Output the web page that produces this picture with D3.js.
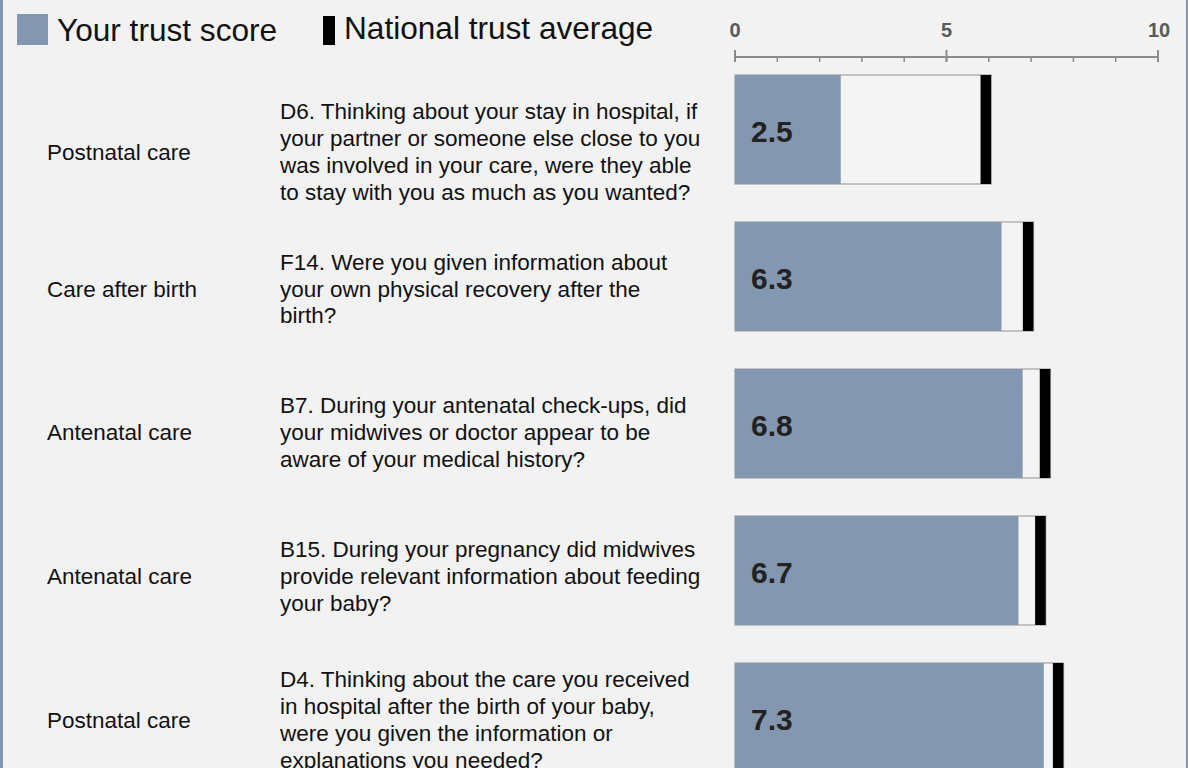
<!DOCTYPE html>
<html>
<head>
<meta charset="utf-8">
<script src="https://cdn.jsdelivr.net/npm/d3@7"></script>
<style>
	html, body { margin: 0; padding: 0; background: #f2f2f2; }
	svg { display: block; font-family: "Liberation Sans", Arial, sans-serif; }
</style>
</head>
<body>
<div id="app"></div>
<script>
// values
const categories = ['Postnatal care', 'Care after birth', 'Antenatal care', 'Antenatal care', 'Postnatal care'];
const questions = [
	['D6. Thinking about your stay in hospital, if', 'your partner or someone else close to you', 'was involved in your care, were they able', 'to stay with you as much as you wanted?'],
	['F14. Were you given information about', 'your own physical recovery after the', 'birth?'],
	['B7. During your antenatal check-ups, did', 'your midwives or doctor appear to be', 'aware of your medical history?'],
	['B15. During your pregnancy did midwives', 'provide relevant information about feeding', 'your baby?'],
	['D4. Thinking about the care you received', 'in hospital after the birth of your baby,', 'were you given the information or', 'explanations you needed?'],
];
const trustScores = [2.5, 6.3, 6.8, 6.7, 7.3];
const nationalAverages = [5.93, 6.93, 7.33, 7.22, 7.64];
const axisTicks = [0, 5, 10];
const legendLabels = ['Your trust score', 'National trust average'];

const width = 1188;
const height = 768;
const blue = '#8497b0';

const svg = d3.select('#app').append('svg')
	.attr('width', width)
	.attr('height', height);

svg.append('rect')
	.attr('width', width)
	.attr('height', height)
	.attr('fill', '#f2f2f2');

// frame edges
svg.append('rect').attr('x', 0).attr('y', 0).attr('width', 3).attr('height', height).attr('fill', blue);
svg.append('rect').attr('x', 1186).attr('y', 0).attr('width', 2).attr('height', height).attr('fill', blue);

const x = d3.scaleLinear().domain([0, 10]).range([735, 1158]);
const y = d3.scaleBand()
	.domain(d3.range(trustScores.length))
	.range([75, 772])
	.paddingInner(38 / 147)
	.paddingOuter(0);
// the text column sits in its own rows, slightly off the bar rows
const textY = d3.scaleLinear().domain([0, 1, 4]).range([152, 289, 720]);

// legend
const legend = svg.append('g');
legend.append('rect')
	.attr('x', 17).attr('y', 14).attr('width', 31).attr('height', 31)
	.attr('fill', blue);
legend.append('text')
	.attr('x', 57).attr('y', 41)
	.attr('font-size', 31.6)
	.attr('fill', '#111')
	.text(legendLabels[0]);
legend.append('rect')
	.attr('x', 323).attr('y', 16).attr('width', 12).attr('height', 29)
	.attr('fill', '#000');
legend.append('text')
	.attr('x', 344).attr('y', 39)
	.attr('font-size', 31.6)
	.attr('fill', '#111')
	.text(legendLabels[1]);

// axis
const axisY = 57;
const axis = svg.append('g').attr('transform', `translate(0, ${axisY})`);
axis.append('line')
	.attr('x1', x(0)).attr('x2', x(10))
	.attr('stroke', '#8c8c8c').attr('stroke-width', 2);
axis.selectAll('line.minor')
	.data(d3.range(0, 11))
	.enter()
	.append('line')
	.attr('class', 'minor')
	.attr('x1', (d) => x(d)).attr('x2', (d) => x(d))
	.attr('y1', 0)
	.attr('y2', 5)
	.attr('stroke', '#8c8c8c').attr('stroke-width', 1.5);
axis.selectAll('line.major')
	.data(axisTicks)
	.enter()
	.append('line')
	.attr('class', 'major')
	.attr('x1', (d) => x(d)).attr('x2', (d) => x(d))
	.attr('y1', -7)
	.attr('y2', 5)
	.attr('stroke', '#8c8c8c').attr('stroke-width', 2);
axis.selectAll('text')
	.data(axisTicks)
	.enter()
	.append('text')
	.attr('x', (d) => d === 10 ? x(d) + 1 : x(d))
	.attr('y', -20)
	.attr('text-anchor', 'middle')
	.attr('font-size', 20)
	.attr('font-weight', 'bold')
	.attr('fill', '#595959')
	.text((d) => d);

// rows
const rows = svg.selectAll('g.row')
	.data(trustScores.map((v, i) => ({i, v, avg: nationalAverages[i]})))
	.enter()
	.append('g')
	.attr('class', 'row');

const markerW = 0.25;

rows.append('rect')
	.attr('x', x(0))
	.attr('y', (d) => y(d.i))
	.attr('width', (d) => x(d.avg + markerW / 2) - x(0))
	.attr('height', y.bandwidth())
	.attr('fill', '#f4f4f4')
	.attr('stroke', '#b3b3b3')
	.attr('stroke-width', 1.5);

rows.append('rect')
	.attr('x', x(0))
	.attr('y', (d) => y(d.i))
	.attr('width', (d) => x(d.v) - x(0))
	.attr('height', y.bandwidth())
	.attr('fill', blue);

rows.append('rect')
	.attr('x', (d) => x(d.avg - markerW / 2))
	.attr('y', (d) => y(d.i))
	.attr('width', (d) => x(d.avg + markerW / 2) - x(d.avg - markerW / 2))
	.attr('height', y.bandwidth())
	.attr('fill', '#000');

rows.append('text')
	.attr('x', x(0) + 16)
	.attr('y', (d) => y(d.i) + y.bandwidth() / 2 + 2)
	.attr('dominant-baseline', 'central')
	.attr('font-size', 30)
	.attr('font-weight', 'bold')
	.attr('fill', '#222')
	.text((d) => d.v.toFixed(1));

rows.append('text')
	.attr('x', 47)
	.attr('y', (d) => textY(d.i))
	.attr('dominant-baseline', 'central')
	.attr('font-size', 22.5)
	.attr('fill', '#111')
	.text((d) => categories[d.i]);

const lineH = 26.7;
rows.append('text')
	.attr('font-size', 22.5)
	.attr('fill', '#111')
	.each(function (d) {
		const lines = questions[d.i];
		const top = textY(d.i) - (lines.length - 1) * lineH / 2;
		d3.select(this).selectAll('tspan')
			.data(lines)
			.enter()
			.append('tspan')
			.attr('x', 280)
			.attr('y', (l, k) => top + k * lineH)
			.attr('dominant-baseline', 'central')
			.text((l) => l);
	});
</script>
</body>
</html>
